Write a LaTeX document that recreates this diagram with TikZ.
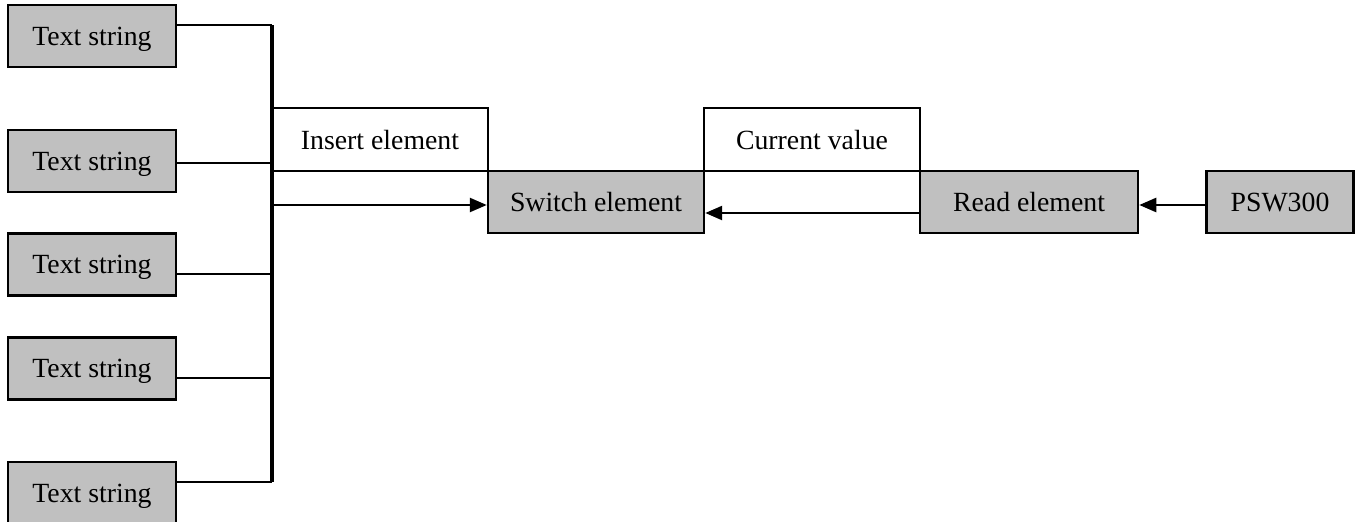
\documentclass[tikz,border=0pt]{standalone}
\usepackage{fontspec}
\setmainfont{Liberation Serif}
\usepackage{tikz}
\usetikzlibrary{arrows.meta}
\definecolor{boxgray}{RGB}{192,192,192}

\begin{document}
\begin{tikzpicture}[every node/.style={font=\fontsize{15.8}{19}\selectfont, inner sep=0pt, text depth=0pt},
	>={Triangle[length=3.4mm, width=2.8mm]}, line width=1.4pt,
	elem/.style={draw, fill=boxgray, minimum height=1.24cm},
	tag/.style={draw, minimum width=4.32cm, minimum height=1.26cm}]
	\useasboundingbox (0,0) rectangle (27.2,-10.42);
	% text strings on the left
	\node[elem, minimum width=3.36cm] (t1) at (1.84,-0.72) {Text string};
	\node[elem, minimum width=3.36cm] (t2) at (1.84,-3.22) {Text string};
	\node[elem, minimum width=3.36cm] (t3) at (1.84,-5.29) {Text string};
	\node[elem, minimum width=3.36cm] (t4) at (1.84,-7.37) {Text string};
	\node[elem, minimum width=3.36cm] (t5) at (1.84,-9.86) {Text string};
	\coordinate (bus) at (5.44,0);
	\foreach \i/\dy in {1/0.22, 2/-0.04, 3/-0.19, 4/-0.19, 5/0.22}
		\draw ([yshift=\dy cm]t\i.east) -- ([yshift=\dy cm]t\i.east -| bus);
	\draw[line width=2pt] ([yshift=0.22cm]t1.east -| bus) -- ([yshift=0.22cm]t5.east -| bus);
	% elements
	\node[elem, minimum width=4.32cm] (sw) at (11.92,-4.04) {Switch element};
	\node[elem, minimum width=4.36cm] (rd) at (20.58,-4.04) {Read element};
	\node[elem, minimum width=2.94cm] (psw) at (25.60,-4.04) {PSW300};
	\node[tag] (ins) at (7.60,-2.79) {Insert element};
	\node[tag] (cur) at (16.24,-2.79) {Current value};
	% arrows
	\draw[->] ([yshift=-0.06cm]sw.west -| bus) -- ([yshift=-0.06cm]sw.west);
	\draw[->] ([yshift=-0.22cm]rd.west) -- ([yshift=-0.22cm]sw.east);
	\draw[->] ([yshift=-0.06cm]psw.west) -- ([yshift=-0.06cm]rd.east);
\end{tikzpicture}
\end{document}
